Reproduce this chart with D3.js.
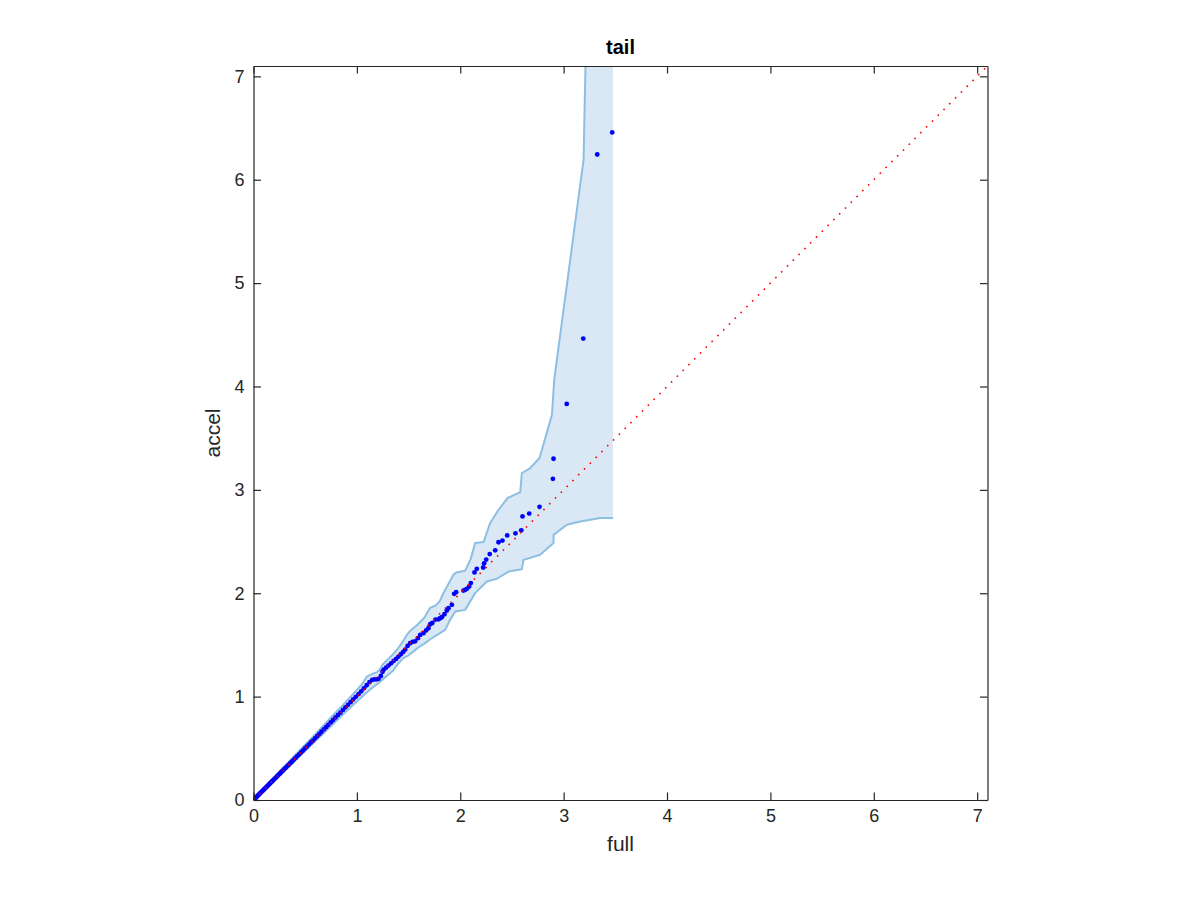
<!DOCTYPE html>
<html>
<head>
<meta charset="utf-8">
<script src="https://cdn.jsdelivr.net/npm/d3@7"></script>
<style>
  body { margin: 0; background: #fff; }
  svg { display: block; font-family: "Liberation Sans", Arial, Helvetica, sans-serif; }
</style>
</head>
<body>
<svg id="chart"></svg>
<script>
// quantiles: full (x) vs accel (y)
let fullQ = [0.000, 0.005, 0.010, 0.016, 0.022, 0.029, 0.036, 0.044, 0.052, 0.060,
  0.069, 0.078, 0.087, 0.097, 0.107, 0.117, 0.128, 0.139, 0.150, 0.162,
  0.174, 0.186, 0.199, 0.212, 0.225, 0.238, 0.252, 0.266, 0.280, 0.295,
  0.310, 0.325, 0.341, 0.357, 0.373, 0.390, 0.407, 0.424, 0.442, 0.460,
  0.478, 0.497, 0.516, 0.535, 0.555, 0.575, 0.595, 0.616, 0.637, 0.658,
  0.680, 0.702, 0.724, 0.747, 0.770, 0.793, 0.817, 0.841, 0.865, 0.889,
  0.914, 0.939, 0.964, 0.990, 1.016, 1.042, 1.068, 1.095, 1.122, 1.148,
  1.170, 1.190, 1.210, 1.232, 1.248, 1.260, 1.282, 1.305, 1.330, 1.355,
  1.380, 1.402, 1.425, 1.448, 1.467, 1.490, 1.515, 1.540, 1.563, 1.590,
  1.612, 1.644, 1.670, 1.692, 1.710, 1.730, 1.760, 1.789, 1.805, 1.822,
  1.847, 1.870, 1.886, 1.919, 1.941, 1.960, 2.031, 2.047, 2.064, 2.086,
  2.102, 2.138, 2.160, 2.222, 2.231, 2.251, 2.285, 2.338, 2.370, 2.408,
  2.454, 2.534, 2.590, 2.602, 2.667, 2.767, 2.896, 2.902, 3.030, 3.190,
  3.325, 3.470];
let accelQ = [0.000, 0.006, 0.011, 0.017, 0.022, 0.030, 0.036, 0.045, 0.052, 0.061,
  0.069, 0.079, 0.088, 0.097, 0.108, 0.118, 0.128, 0.140, 0.151, 0.162,
  0.175, 0.186, 0.200, 0.212, 0.226, 0.239, 0.252, 0.267, 0.281, 0.296,
  0.310, 0.326, 0.341, 0.358, 0.373, 0.391, 0.407, 0.425, 0.442, 0.461,
  0.478, 0.498, 0.516, 0.536, 0.556, 0.575, 0.597, 0.617, 0.639, 0.660,
  0.683, 0.704, 0.727, 0.750, 0.774, 0.798, 0.822, 0.845, 0.871, 0.896,
  0.921, 0.946, 0.972, 0.998, 1.024, 1.051, 1.080, 1.110, 1.140, 1.162,
  1.167, 1.168, 1.172, 1.200, 1.240, 1.262, 1.280, 1.300, 1.322, 1.345,
  1.365, 1.387, 1.410, 1.432, 1.455, 1.490, 1.517, 1.530, 1.535, 1.565,
  1.597, 1.614, 1.640, 1.662, 1.700, 1.712, 1.745, 1.748, 1.758, 1.768,
  1.797, 1.833, 1.856, 1.888, 1.994, 2.010, 2.026, 2.033, 2.043, 2.065,
  2.098, 2.201, 2.236, 2.249, 2.289, 2.326, 2.379, 2.415, 2.493, 2.509,
  2.559, 2.580, 2.609, 2.743, 2.771, 2.836, 3.107, 3.301, 3.831, 4.463,
  6.244, 6.457];

// confidence envelope edges
let upperX = [0.000, 0.100, 0.200, 0.300, 0.400, 0.500, 0.600, 0.700, 0.760, 0.800,
  0.850, 0.900, 0.950, 1.000, 1.050, 1.096, 1.150, 1.200, 1.220, 1.250,
  1.300, 1.350, 1.400, 1.450, 1.483, 1.520, 1.580, 1.650, 1.709, 1.760,
  1.800, 1.837, 1.934, 1.960, 2.047, 2.100, 2.144, 2.225, 2.289, 2.370,
  2.457, 2.580, 2.596, 2.677, 2.767, 2.887, 2.909, 3.193, 3.225];
let upperY = [0.008, 0.118, 0.222, 0.326, 0.430, 0.534, 0.640, 0.745, 0.810, 0.852,
  0.903, 0.956, 1.010, 1.065, 1.120, 1.194, 1.220, 1.240, 1.260, 1.310,
  1.360, 1.410, 1.470, 1.540, 1.597, 1.640, 1.690, 1.760, 1.860, 1.880,
  1.920, 2.001, 2.178, 2.200, 2.217, 2.330, 2.485, 2.495, 2.679, 2.807,
  2.921, 2.979, 3.163, 3.211, 3.308, 3.727, 4.066, 6.196, 7.800];
let lowerX = [0.000, 0.100, 0.200, 0.300, 0.400, 0.500, 0.600, 0.700, 0.800, 0.900,
  1.000, 1.050, 1.100, 1.150, 1.225, 1.300, 1.350, 1.400, 1.450, 1.500,
  1.550, 1.600, 1.650, 1.709, 1.780, 1.854, 1.900, 1.951, 2.047, 2.144,
  2.257, 2.354, 2.467, 2.596, 2.612, 2.773, 2.902, 2.902, 3.032, 3.161,
  3.354, 3.477];
let lowerY = [0.000, 0.085, 0.182, 0.279, 0.376, 0.474, 0.571, 0.667, 0.764, 0.860,
  0.952, 0.998, 1.045, 1.085, 1.145, 1.210, 1.250, 1.320, 1.372, 1.400,
  1.440, 1.480, 1.510, 1.555, 1.600, 1.646, 1.740, 1.823, 1.839, 2.001,
  2.113, 2.140, 2.210, 2.233, 2.323, 2.372, 2.485, 2.565, 2.662, 2.694,
  2.727, 2.727];

let axisMax = 7.1;
let tickVals = [0, 1, 2, 3, 4, 5, 6, 7];
let titleText = 'tail';
let xLabel = 'full';
let yLabel = 'accel';

let width = 1200;
let height = 900;
let margin = { top: 66, left: 253.5, right: 212.5, bot: 100 };
let bodyWidth = width - margin.left - margin.right;
let bodyHeight = height - margin.top - margin.bot;

let svg = d3.select('#chart')
  .attr('width', width)
  .attr('height', height);

let xScale = d3.scaleLinear().domain([0, axisMax]).range([0, bodyWidth]);
let yScale = d3.scaleLinear().domain([0, axisMax]).range([bodyHeight, 0]);

svg.append('defs').append('clipPath')
  .attr('id', 'clip')
  .append('rect')
  .attr('width', bodyWidth)
  .attr('height', bodyHeight);

let body = svg.append('g')
  .attr('transform', `translate(${margin.left},${margin.top})`);
let plot = body.append('g').attr('clip-path', 'url(#clip)');

let upper = upperX.map((x, i) => [x, upperY[i]]);
let lower = lowerX.map((x, i) => [x, lowerY[i]]);
let line = d3.line()
  .x(d => xScale(d[0]))
  .y(d => yScale(d[1]));

// band fill: upper edge, across the top, down the right side, back along lower edge
let last = lower[lower.length - 1];
let bandPts = upper.concat([[last[0], upper[upper.length - 1][1]]], lower.slice().reverse());
plot.append('path')
  .attr('d', line(bandPts) + 'Z')
  .style('fill', '#d9e8f4')
  .style('stroke', 'none');
[upper, lower].forEach(edge => {
  plot.append('path')
    .attr('d', line(edge))
    .style('fill', 'none')
    .style('stroke', '#8cbfe1')
    .style('stroke-width', '2px')
    .style('stroke-linejoin', 'round');
});

// qq points
plot.selectAll('.pt')
  .data(fullQ.map((x, i) => [x, accelQ[i]]))
  .enter()
  .append('circle')
  .attr('class', 'pt')
  .attr('cx', d => xScale(d[0]))
  .attr('cy', d => yScale(d[1]))
  .attr('r', 2.4)
  .style('fill', '#0000ff');

// reference y = x
plot.append('path')
  .attr('d', line([[0, 0], [axisMax, axisMax]]))
  .style('fill', 'none')
  .style('stroke', '#ff0000')
  .style('stroke-width', '1.6px')
  .style('stroke-dasharray', '1.6,6.6');

// box axes, ticks inward on all sides
let tick = 7.5;
function styleAxis(g) {
  g.selectAll('path, line').attr('stroke', '#262626').attr('stroke-width', 1.2);
  g.selectAll('text').attr('fill', '#262626').style('font-size', '18px');
}
body.append('g')
  .attr('transform', `translate(0,${bodyHeight})`)
  .call(d3.axisBottom(xScale).tickValues(tickVals).tickSizeInner(-tick).tickSizeOuter(0).tickPadding(9))
  .call(styleAxis);
body.append('g')
  .call(d3.axisTop(xScale).tickValues(tickVals).tickSizeInner(-tick).tickSizeOuter(0).tickFormat(''))
  .call(styleAxis);
body.append('g')
  .call(d3.axisLeft(yScale).tickValues(tickVals).tickSizeInner(-tick).tickSizeOuter(0).tickPadding(9))
  .call(styleAxis);
body.append('g')
  .attr('transform', `translate(${bodyWidth},0)`)
  .call(d3.axisRight(yScale).tickValues(tickVals).tickSizeInner(-tick).tickSizeOuter(0).tickFormat(''))
  .call(styleAxis);

// title and labels
svg.append('text')
  .attr('x', margin.left + bodyWidth / 2)
  .attr('y', 54)
  .style('text-anchor', 'middle')
  .style('font-size', '20px')
  .style('font-weight', 'bold')
  .style('fill', '#000')
  .text(titleText);
svg.append('text')
  .attr('x', margin.left + bodyWidth / 2)
  .attr('y', 851)
  .style('text-anchor', 'middle')
  .style('font-size', '21px')
  .style('fill', '#262626')
  .text(xLabel);
svg.append('text')
  .attr('transform', `translate(220,${margin.top + bodyHeight / 2}) rotate(-90)`)
  .style('text-anchor', 'middle')
  .style('font-size', '21px')
  .style('fill', '#262626')
  .text(yLabel);
</script>
</body>
</html>
